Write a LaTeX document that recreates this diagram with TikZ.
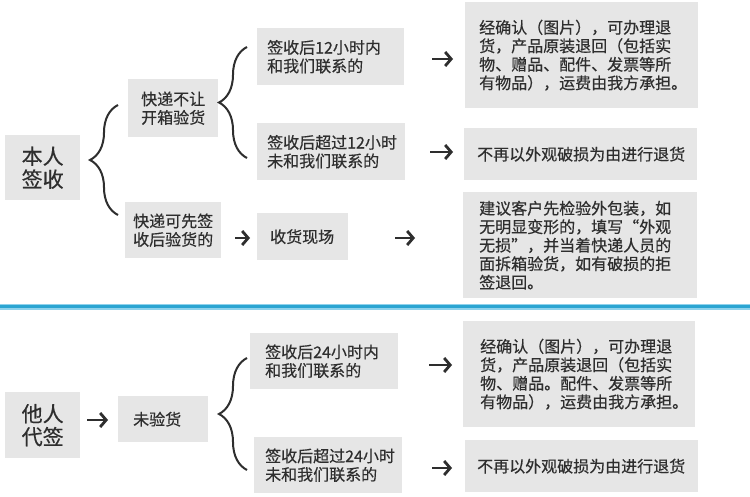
\documentclass[tikz,border=0pt]{standalone}
\usepackage{fontspec}
\setmainfont{Noto Sans CJK SC}[FakeBold=0.5]
\usetikzlibrary{arrows.meta,decorations.pathreplacing}
\definecolor{boxgray}{HTML}{E6E6E6}
\definecolor{ink}{HTML}{2E2E2E}
\definecolor{blueline}{HTML}{2BA5D2}
\definecolor{bluelight}{HTML}{8FD2EC}
\begin{document}
\begin{tikzpicture}[x=1pt,y=-1pt,
  box/.style={fill=boxgray, inner ysep=0pt, anchor=north west, align=left, text=ink,
    font=\fontsize{16}{18.5}\selectfont},
  bigbox/.style={fill=boxgray, inner sep=0pt, anchor=north west, align=center, text=ink,
    font=\fontsize{21}{23}\selectfont},
  arr/.style={draw=ink, line width=2.8pt, -{Straight Barb[length=6pt,width=14pt]}},
  curly/.style={draw=ink, line width=2pt, decorate, decoration={brace, amplitude=28pt}}]
\useasboundingbox (0,0) rectangle (750,497);
\fill[white] (0,0) rectangle (750,497);

% blue separator
\draw[bluelight, line width=6pt] (0,306.5) -- (750,306.5);
\draw[blueline, line width=3.5pt] (0,306.5) -- (750,306.5);

% upper part
\node[bigbox, minimum width=75pt, minimum height=65pt, text width=75pt] (br) at (5,135) {本人\\签收};
\node[box, minimum height=58pt, text width=90pt, inner xsep=0pt, align=center] (kd1) at (128,79) {快递不让\\开箱验货};
\node[box, minimum height=56pt, text width=96pt, inner xsep=0pt, align=center] (kd2) at (125,202) {快递可先签\\收后验货的};
\node[box, minimum height=57pt, text width=127pt, inner xsep=10pt] (a1) at (257,28) {签收后12小时内\\和我们联系的};
\node[box, minimum height=57pt, text width=128pt, inner xsep=10pt] (a2) at (257,123) {签收后超过12小时\\未和我们联系的};
\node[box, minimum height=47pt, text width=65pt, inner xsep=13pt] (sh) at (257,213) {收货现场};
\node[box, minimum height=106pt, text width=205pt, inner xsep=14pt] (r1) at (465,2) {经确认（图片），可办理退\\货，产品原装退回（包括实\\物、赠品、配件、发票等所\\有物品），运费由我方承担。};
\node[box, minimum height=52pt, text width=207pt, inner xsep=13pt] (r2) at (464,128) {不再以外观破损为由进行退货};
\node[box, minimum height=106pt, text width=202pt, inner xsep=16pt] (r3) at (463,192) {建议客户先检验外包装，如\\无明显变形的，填写“外观\\无损”，并当着快递人员的\\面拆箱验货，如有破损的拒\\签退回。};

% lower part
\node[bigbox, minimum width=75pt, minimum height=66pt, text width=75pt] (tr) at (5,392) {他人\\代签};
\node[box, minimum height=46pt, text width=60pt, inner xsep=15pt] (wy) at (118,396) {未验货};
\node[box, minimum height=56pt, text width=118pt, inner xsep=15pt] (b1) at (250,333) {签收后24小时内\\和我们联系的};
\node[box, minimum height=56pt, text width=126pt, inner xsep=11pt] (b2) at (254,437) {签收后超过24小时\\未和我们联系的};
\node[box, minimum height=106pt, text width=198pt, inner xsep=17pt] (r4) at (463,321) {经确认（图片），可办理退\\货，产品原装退回（包括实\\物、赠品。配件、发票等所\\有物品），运费由我方承担。};
\node[box, minimum height=52pt, text width=209pt, inner xsep=12pt] (r5) at (465,440) {不再以外观破损为由进行退货};

% braces
\coordinate (ba1) at (118,215); \coordinate (ba2) at (118,105);
\coordinate (bb1) at (247,158); \coordinate (bb2) at (247,47);
\coordinate (bc1) at (247,470); \coordinate (bc2) at (247,358);
\draw[curly] (ba1) -- (ba2);
\draw[curly] (bb1) -- (bb2);
\draw[curly] (bc1) -- (bc2);

% arrows
\draw[arr, shorten <=14pt, shorten >=7pt] (kd2.east |- 0,238) -- (sh.west |- 0,238);
\draw[arr, shorten <=47pt, shorten >=48pt] (sh.east |- 0,238) -- (r3.west |- 0,238);
\draw[arr, shorten <=28pt, shorten >=12pt] (a1.east |- 0,59) -- (r1.west |- 0,59);
\draw[arr, shorten <=25pt, shorten >=11pt] (a2.east |- 0,152) -- (r2.west |- 0,152);
\draw[arr, shorten <=7pt, shorten >=10pt] (tr.east |- 0,420) -- (wy.west |- 0,420);
\draw[arr, shorten <=31pt, shorten >=11pt] (b1.east |- 0,365) -- (r4.west |- 0,365);
\draw[arr, shorten <=30pt, shorten >=13pt] (b2.east |- 0,468) -- (r5.west |- 0,468);
\end{tikzpicture}
\end{document}
